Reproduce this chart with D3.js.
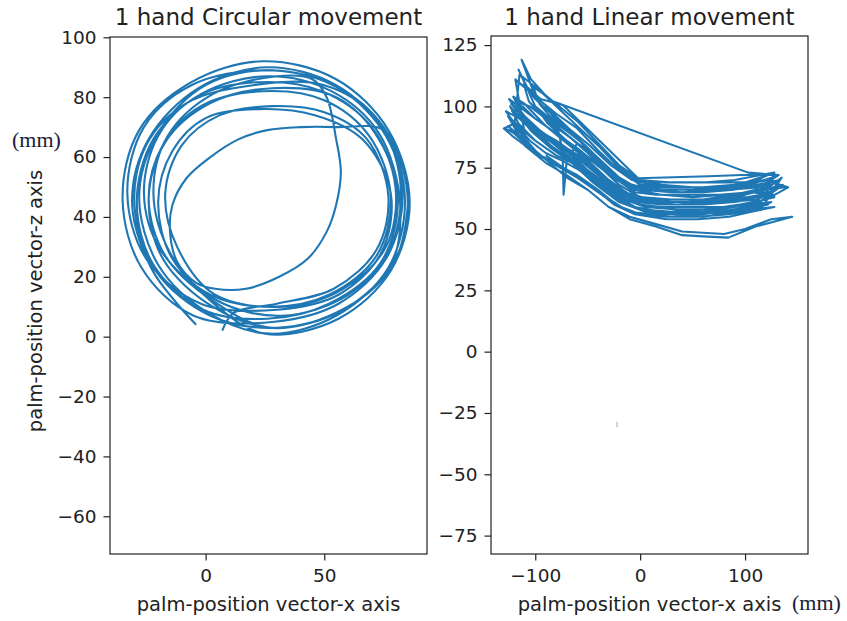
<!DOCTYPE html>
<html><head><meta charset="utf-8">
<script src="https://cdn.jsdelivr.net/npm/d3@7"></script>
<style>body{margin:0;background:#fff} svg{display:block} text{font-family:"DejaVu Sans",sans-serif}</style>
</head><body><svg id="c" width="847" height="621"></svg>
<script>
const titles = ["1 hand Circular movement", "1 hand Linear movement"];
const xLabel = "palm-position vector-x axis";
const yLabel = "palm-position vector-z axis";
const unitLabel = "(mm)";
const circularTicksX = [0, 50];
const circularTicksY = [-60, -40, -20, 0, 20, 40, 60, 80, 100];
const linearTicksX = [-100, 0, 100];
const linearTicksY = [-75, -50, -25, 0, 25, 50, 75, 100, 125];

// palm position (x, z) of the circular movement, in mm
const circularPath = [
[-4,4],[-12,11],
[-23,23],[-31,45],[-24,66],[-3,83],[26,90],[55,84],[76,68],[84,46],[77,23],[55,7],[27,1],
[1,8],[-20,24],[-28,47],[-20,68],[0,84],[28,89],[56,83],[76,67],[83,47],[76,26],[56,11],[29,5],
[-5,7],[-27,23],[-35,46],[-28,69],[-6,85],[24,92],[55,86],[77,69],[86,45],[78,22],[56,6],[25,1],
[2,12],[-15,28],[-22,48],[-16,67],[3,81],[30,87],[45,86],[51,80],[55,66],[57,55],[55,44],[51,35],[43,26],[31,20],[17,16],[4,16],[-4,18],
[-12,25],[-15,35],[-14,44],[-8,53],[2,60],[14,66],[26,69],[40,70],[55,70],[75,69],[84,55],[85,42],[79,24],[58,9],[30,3],
[2,7],[-21,22],[-30,44],[-25,64],[-8,78],[20,84],[50,84],[72,73],[82,52],[78,30],[60,14],[32,7],
[5,12],[-14,26],[-20,45],[-14,62],[0,73],[22,76],[46,74],[66,66],[78,48],[74,28],[56,14],[30,9],
[-2,11],[-25,26],[-33,48],[-26,70],[-6,84],[25,89],[54,84],[75,70],[85,48],[80,26],[58,9],[28,3],
[3,10],[-18,26],[-24,46],[-17,65],[2,78],[28,83],[55,80],[73,66],[81,46],[74,25],[52,11],[26,6],
[-1,9],[-22,24],[-29,45],[-22,66],[-2,81],[26,87],[53,82],[73,68],[82,44],[77,22],[55,8],[27,3],
[3,12],[-17,27],[-24,46],[-18,64],[-2,77],[24,82],[50,79],[69,67],[78,47],[72,27],[52,14],[28,10],
[2,14],[-19,29],[-26,48],[-20,67],[-4,80],[22,85],[49,82],[70,70],[80,50],[76,30],[58,16],[33,10],
[4,14],[-12,30],[-17,48],[-10,64],[6,74],[28,77],[50,75],[68,66],[77,47],[72,29],[54,16],[30,11],
[12,8],[7,2]
];

// palm position (x, z) of the linear movement, in mm
const linearPath = [
[-128,91],[-120,89],[-100,81],[-80,76],[-60,71],[-40,65],[-20,59],[0,56],[30,55],[60,55],[90,57],[122,60],
[105,62],[90,61],[60,60],[30,60],[0,61],[-20,65],[-40,72],[-60,79],[-80,84],[-100,90],[-118,97],[-124,100],
[-116,93],[-100,86],[-80,80],[-60,76],[-40,69],[-20,62],[0,58],[30,57],[60,57],[90,59],[128,63],
[112,68],[90,66],[60,65],[30,65],[0,66],[-20,71],[-40,79],[-60,87],[-80,93],[-100,100],[-116,115],
[-108,108],[-95,103],[-73.5,100.5],[-2,70.7],[65,71.5],[97,72],[130,72],
[115,66],[90,64],[60,62],[30,62],[0,63],[-20,68],[-40,76],[-60,83],[-80,89],[-100,95],[-125,103],
[-118,99],[-100,91],[-80,84],[-60,79],[-40,72],[-20,65],[0,61],[30,60],[60,60],[90,61],[110,63],[135,71],
[118,60],[90,57],[60,55],[30,55],[0,56],[-20,59],[-40,66],[-60,72],[-80,76],[-100,81],[-122,88],[-130,91],
[-120,93],[-100,86],[-80,80],[-60,76],[-40,70],[-20,62],[0,58],[30,57],[60,57],[90,59],[120,62],[141,67],
[118,70],[90,68],[60,67],[30,67],[0,68],[-20,74],[-40,82],[-60,91],[-80,97],[-100,104],[-113,119],
[-104,111],[-86,102.5],[103,73],[132,72],
[110,66],[90,64],[60,62],[30,62],[0,63],[-20,68],[-40,76],[-60,83],[-80,89],[-100,95],[-118,102],
[-105,100],[-90,95],[-78,90],[-74,82],[-73,64],[-70,78],[-60,85],[-40,79],[-20,71],[0,66],[30,65],[60,65],[90,66],[124,69],
[108,60],[90,59],[60,57],[30,57],[0,58],[-20,62],[-40,69],[-60,76],[-80,80],[-100,86],[-126,96],
[-110,84],[-90,77],[-70,72],[-50,66],[-30,59],[-10,54],[15,51],[40,47.5],[60,47],[84,46.5],[110,51],[145,55],
[125,54],[100,50],[80,48],[60,48.5],[40,49],[15,52],[-10,55],[-30,59],[-50,66],[-70,71],[-100,82],[-120,92],
[-115,113],[-100,108],[-80,101],[-60,94],[-40,85],[-20,76],[0,70],[30,69],[60,69],[90,70],[128,73],
[120,64],[90,61],[60,60],[30,60],[0,61],[-20,65],[-40,72],[-60,79],[-80,84],[-100,90],[-122,98],
[-112,100],[-100,95],[-80,89],[-60,83],[-40,76],[-20,68],[0,63],[30,62],[60,62],[90,64],[120,66],[138,67],
[125,70],[90,68],[60,67],[30,67],[0,68],[-20,74],[-40,82],[-60,91],[-80,97],[-100,104],[-119,111],
[-108,84],[-100,81],[-80,76],[-60,72],[-40,65],[-20,59],[0,56],[30,55],[60,56],[90,58],[118,60],
[100,63],[75,62],[45,61],[15,61],[-10,64],[-30,70],[-50,78],[-70,85],[-90,92],[-110,101],[-121,104],
[-114,98],[-104,93],[-92,89],[-80,86],[-70,83],[-55,79],[-40,73],[-20,66],[0,62],[30,61],[60,61],[90,62],[115,64],[130,66],
[112,67],[85,66],[50,66],[20,66],[-5,67],[-25,72],[-45,80],[-62,88],[-82,96],[-100,103],[-111,109],
[-106,102],[-95,97],[-82,92],[-66,87],[-50,81],[-30,72],[-10,67],[20,66],[50,66],[80,67],[110,69],[126,71],
[104,68],[80,67],[50,67],[20,68],[0,69],[-20,75],[-40,84],[-55,90],[-75,98],[-92,105],[-102,108],
[-96,101],[-84,95],[-70,90],[-52,84],[-35,76],[-15,69],[10,66],[40,65],[70,66],[100,67],[133,70],
[120,62],[95,60],[65,58],[35,58],[5,59],[-15,62],[-35,68],[-55,75],[-75,81],[-95,87],[-115,95],[-128,98],
[-118,92],[-105,86],[-90,81],[-75,78],[-58,74],[-40,68],[-22,62],[0,58],[30,57],[60,58],[90,59],[125,61],
[110,58],[85,56],[55,55],[25,55],[0,56],[-18,59],[-36,64],[-54,70],[-72,74],[-92,79],[-112,86],[-126,92],
[-112,87],[-95,80],[-78,76],[-60,72],[-42,66],[-25,60],[-5,56],[25,54],[55,54],[85,55],[105,57],[128,59],
[108,58],[85,57],[60,57],[30,56],[5,57],[-20,61],[-45,69],[-65,77],[-85,84],[-105,92],[-123,101],
[-110,96],[-95,90],[-75,84],[-55,78],[-35,71],[-15,65],[10,62],[40,62],[70,62],[100,64],[136,68],
[110,60],[80,59],[50,59],[20,59],[0,60],[-12,62],[-28,66],[-45,72],[-65,80],[-85,86],[-105,93],
[-95,89],[-75,82],[-55,75],[-35,69],[-15,64],[5,61],[35,60],[65,61],[95,62],[128,64],
[105,65],[75,64],[45,64],[15,64],[-5,65],[-22,70],[-40,77],[-60,85],[-80,92],[-98,99],
[-88,93],[-70,86],[-50,79],[-32,73],[-12,68],[10,67],[40,67],[70,67],[100,68],[122,72],
[100,69],[70,69],[40,69],[12,69],[-8,70],[-28,76],[-48,84],[-68,91],[-90,100],
[-80,94],[-62,88],[-45,81],[-25,72],[-5,66],[20,64],[50,63],[80,64],[110,65],[131,67],
[112,62],[80,61],[50,60],[20,60],[-3,61],[-25,66],[-50,74],[-75,82],[-98,90],[-117,97],
[-104,90],[-85,83],[-65,77],[-45,71],[-25,64],[-5,59],[20,57],[50,56],[80,57],[115,59],
[95,58],[65,57],[35,56],[10,56],[-10,57],[-30,62],[-50,68],[-70,74],[-90,80]
];
// isolated sample far below the band
const linearSpeck = [[-22,-28.6],[-22,-30.8]];

const svg = d3.select("#c");
const BLUE = "#1f77b4", INK = "#222";
const fmt = d => d < 0 ? "\u2212" + Math.abs(d) : String(d);

function panel(id, box, xDom, yDom, xt, yt, title, data, curve, yLab) {
  const x = d3.scaleLinear().domain(xDom).range([box.x0, box.x1]);
  const y = d3.scaleLinear().domain(yDom).range([box.y1, box.y0]);
  const g = svg.append("g");
  g.append("clipPath").attr("id", id).append("rect")
    .attr("x", box.x0).attr("y", box.y0).attr("width", box.x1 - box.x0).attr("height", box.y1 - box.y0);
  const line = d3.line().x(d => x(d[0])).y(d => y(d[1])).curve(curve);
  data.forEach(ds => {
    g.append("path").attr("clip-path", `url(#${id})`).attr("d", line(ds.pts))
      .attr("fill", "none").attr("stroke", BLUE).attr("stroke-width", ds.w)
      .attr("stroke-opacity", ds.o).attr("stroke-linejoin", "round").attr("stroke-linecap", "butt");
  });
  const ax = g.append("g").attr("transform", `translate(0,${box.y1})`)
    .call(d3.axisBottom(x).tickValues(xt).tickFormat(fmt).tickSize(6.5).tickPadding(8));
  const ay = g.append("g").attr("transform", `translate(${box.x0},0)`)
    .call(d3.axisLeft(y).tickValues(yt).tickFormat(fmt).tickSize(6.5).tickPadding(7));
  [ax, ay].forEach(a => {
    a.select(".domain").remove();
    a.selectAll("line").attr("stroke", INK).attr("stroke-width", 1.2);
    a.selectAll("text").attr("fill", INK).style("font-size", "18.5px").style("font-family", "DejaVu Sans");
  });
  g.append("rect").attr("x", box.x0).attr("y", box.y0).attr("width", box.x1 - box.x0).attr("height", box.y1 - box.y0)
    .attr("fill", "none").attr("stroke", INK).attr("stroke-width", 1.2);
  g.append("text").attr("x", (box.x0 + box.x1) / 2).attr("y", 25).attr("text-anchor", "middle")
    .attr("fill", INK).style("font-size", "23px").text(title);
  g.append("text").attr("x", (box.x0 + box.x1) / 2).attr("y", 611).attr("text-anchor", "middle")
    .attr("fill", INK).style("font-size", "19.5px").text(xLabel);
  if (yLab) {
    g.append("text").attr("transform", `translate(42,301) rotate(-90)`).attr("text-anchor", "middle")
      .attr("fill", INK).style("font-size", "19.5px").text(yLab);
  }
}

panel("clipA", {x0: 110, x1: 427, y0: 37, y1: 554}, [-40.3, 93.3], [-72.6, 100.1],
  circularTicksX, circularTicksY, titles[0],
  [{pts: circularPath, w: 2.1, o: 1}], d3.curveCatmullRom.alpha(0.5), yLabel);
panel("clipB", {x0: 491, x1: 808, y0: 36, y1: 554}, [-142.2, 160], [-82.5, 128.7],
  linearTicksX, linearTicksY, titles[1],
  [{pts: linearPath, w: 2.1, o: 1}, {pts: linearSpeck, w: 1.2, o: 0.45}], d3.curveLinear, null);

// unit annotations (added in a serif face)
svg.append("text").attr("x", 12).attr("y", 147).attr("fill", "#1c1c3c")
  .style("font-family", "'Liberation Serif', serif").style("font-size", "22px").text(unitLabel);
svg.append("text").attr("x", 792).attr("y", 610).attr("fill", "#1c1c3c")
  .style("font-family", "'Liberation Serif', serif").style("font-size", "22px").text(unitLabel);
</script></body></html>
